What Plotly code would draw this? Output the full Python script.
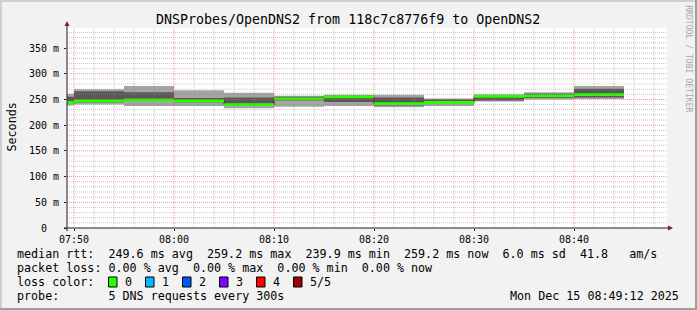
import plotly.graph_objects as go
import datetime as dt

# ---------------- data ----------------
bin_start = ["2025-12-15 07:45:00", "2025-12-15 07:50:00", "2025-12-15 07:55:00",
             "2025-12-15 08:00:00", "2025-12-15 08:05:00", "2025-12-15 08:10:00",
             "2025-12-15 08:15:00", "2025-12-15 08:20:00", "2025-12-15 08:25:00",
             "2025-12-15 08:30:00", "2025-12-15 08:35:00", "2025-12-15 08:40:00"]
last_bin_end = "2025-12-15 08:45:00"

ping_1 = [238, 240, 237, 237, 233, 236, 237, 235, 237, 246, 250, 251]   # min
ping_2 = [242, 244, 247, 244, 238, 248, 245, 238, 241, 248, 253, 254]
median = [244, 247, 249.3, 247, 239.9, 251, 255, 242, 244, 256, 257, 259.2]
ping_4 = [255, 266, 264, 253, 254, 255, 257, 254, 250, 258, 261, 271]
ping_5 = [261, 270, 276, 268, 263, 257, 259, 259, 252, 260, 264, 276]  # max

y_tick_vals = [0, 50, 100, 150, 200, 250, 300, 350]
y_tick_text = ["0\u00a0\u00a0", "50 m", "100 m", "150 m", "200 m", "250 m", "300 m", "350 m"]

loss_labels = ["0", "1", "2", "3", "4", "5/5"]
loss_colors = ["#26ff00", "#00b8ff", "#0059ff", "#7e00ff", "#ff0000", "#a00000"]

title_text = "DNSProbes/OpenDNS2 from 118c7c8776f9 to OpenDNS2"
legend_lines = [
    "median rtt:  249.6 ms avg  259.2 ms max  239.9 ms min  259.2 ms now  6.0 ms sd  41.8   am/s",
    "packet loss: 0.00 % avg  0.00 % max  0.00 % min  0.00 % now",
    "loss color:",
    "probe:       5 DNS requests every 300s",
]
date_text = "Mon Dec 15 08:49:12 2025"
watermark = "RRDTOOL / TOBI OETIKER"

x_range = ["2025-12-15 07:49:18", "2025-12-15 08:49:18"]
y_max = 388.9

# ---------------- layout geometry (pixels) ----------------
W, H = 697, 310
PL, PR, PT, PB = 67, 667, 28, 228
MONO = "DejaVu Sans Mono"


def px_x(p):
    return (p - PL) / (PR - PL)


def px_y(p):
    return (PB - p) / (PB - PT)


def step(vals):
    return bin_start + [last_bin_end], list(vals) + [vals[-1]]


fig = go.Figure()


def add_band(lo, hi, color):
    xs, ylo = step(lo)
    _, yhi = step(hi)
    fig.add_trace(go.Scatter(x=xs, y=ylo, mode="lines", line=dict(width=0, shape="hv"),
                             hoverinfo="skip"))
    fig.add_trace(go.Scatter(x=xs, y=yhi, mode="lines", line=dict(width=0, shape="hv"),
                             fill="tonexty", fillcolor=color, hoverinfo="skip"))


add_band(ping_1, ping_5, "#a4a4a4")
add_band(ping_2, ping_4, "#585858")

xs, ym = step(median)
fig.add_trace(go.Scatter(x=xs, y=ym, mode="lines", line=dict(width=1, color="#202020", shape="hv"),
                         hoverinfo="skip"))
sw = y_max / 200 * 1.4
add_band([m - sw for m in median], [m + sw for m in median], loss_colors[0])

shapes = []
# grid (drawn above the smoke, as rrdtool does)
minor_col = "rgba(143,143,143,0.5)"
major_col = "rgba(222,80,80,0.6)"
for v in range(10, 390, 10):
    shapes.append(dict(type="line", xref="x", yref="y", x0=x_range[0], x1=x_range[1], y0=v, y1=v,
                       line=dict(color=major_col if v % 50 == 0 else minor_col, width=1, dash="1px,1px"),
                       layer="above"))
t = dt.datetime(2025, 12, 15, 7, 50)
tend = dt.datetime(2025, 12, 15, 8, 49)
while t <= tend:
    major = (t.minute % 10 == 0)
    shapes.append(dict(type="line", xref="x", yref="y", x0=t, x1=t, y0=0, y1=y_max,
                       line=dict(color=major_col if major else minor_col, width=1, dash="1px,1px"),
                       layer="above"))
    t += dt.timedelta(minutes=2)

# axes lines + arrows
axis_col = "#1f1f1f"
arrow_col = "#801f1f"
shapes.append(dict(type="line", xref="paper", yref="paper", x0=px_x(67), x1=px_x(67),
                   y0=px_y(231), y1=px_y(25), line=dict(color=axis_col, width=1), layer="above"))
shapes.append(dict(type="line", xref="paper", yref="paper", x0=px_x(64), x1=px_x(669),
                   y0=px_y(228), y1=px_y(228), line=dict(color=axis_col, width=1), layer="above"))
shapes.append(dict(type="path", xref="paper", yref="paper",
                   path=f"M {px_x(64.5)} {px_y(26)} L {px_x(69.5)} {px_y(26)} L {px_x(67)} {px_y(21)} Z",
                   fillcolor=arrow_col, line=dict(width=0), layer="above"))
shapes.append(dict(type="path", xref="paper", yref="paper",
                   path=f"M {px_x(668)} {px_y(225.5)} L {px_x(668)} {px_y(230.5)} L {px_x(673)} {px_y(228)} Z",
                   fillcolor=arrow_col, line=dict(width=0), layer="above"))

# frame
shapes.append(dict(type="rect", xref="paper", yref="paper", x0=px_x(0), x1=px_x(W), y0=px_y(0), y1=px_y(2),
                   fillcolor="#cfcfcf", line=dict(width=0)))
shapes.append(dict(type="rect", xref="paper", yref="paper", x0=px_x(0), x1=px_x(2), y0=px_y(0), y1=px_y(H),
                   fillcolor="#cfcfcf", line=dict(width=0)))
shapes.append(dict(type="rect", xref="paper", yref="paper", x0=px_x(0), x1=px_x(W), y0=px_y(H - 2), y1=px_y(H),
                   fillcolor="#9e9e9e", line=dict(width=0)))
shapes.append(dict(type="rect", xref="paper", yref="paper", x0=px_x(W - 2), x1=px_x(W), y0=px_y(0), y1=px_y(H),
                   fillcolor="#9e9e9e", line=dict(width=0)))

# loss colour boxes
for k, c in enumerate(loss_colors):
    x0 = 108.5 + 37 * k
    shapes.append(dict(type="rect", xref="paper", yref="paper", x0=px_x(x0), x1=px_x(x0 + 8.5),
                       y0=px_y(287), y1=px_y(277), fillcolor=c, line=dict(color="black", width=1)))

annotations = []


def ann(text, x, y, size, xanchor="left", angle=0, color="black"):
    annotations.append(dict(text=text.replace(" ", "\u00a0"), x=px_x(x), y=px_y(y), xref="paper", yref="paper",
                            xanchor=xanchor, yanchor="middle", showarrow=False, textangle=angle,
                            borderpad=0, font=dict(family=MONO, size=size, color=color)))


ann(title_text, 348, 19.5, 13.3, xanchor="center")
ann("Seconds", 11, 127.5, 11.7, xanchor="center", angle=-90)
ann(watermark, 688.3, 58.5, 8.1, xanchor="center", angle=90, color="#a8a8a8")
legend_y = [253.7, 268, 282, 296]
for line, yy in zip(legend_lines, legend_y):
    ann(line, 16, yy, 11.7)
for k, lab in enumerate(loss_labels):
    ann(lab, 124 + 37 * k, legend_y[2], 11.7)
ann(date_text, 680, legend_y[3], 11.7, xanchor="right")

fig.update_layout(
    width=W, height=H,
    margin=dict(l=PL, r=W - PR, t=PT, b=H - PB, pad=0),
    paper_bgcolor="#f2f2f2", plot_bgcolor="#ffffff",
    showlegend=False,
    shapes=shapes, annotations=annotations,
    xaxis=dict(type="date", range=x_range, tickformat="%H:%M", tick0="2025-12-15 07:50:00",
               dtick=600000, showgrid=False, zeroline=False, showline=False,
               ticks="outside", ticklen=2, tickcolor=axis_col,
               tickfont=dict(family=MONO, size=10, color="black")),
    yaxis=dict(range=[0, y_max], tickvals=y_tick_vals, ticktext=y_tick_text,
               showgrid=False, zeroline=False, showline=False,
               ticks="outside", ticklen=2, tickcolor=axis_col, ticklabelstandoff=3,
               tickfont=dict(family=MONO, size=10, color="black")),
)

fig.write_html("out.html")
